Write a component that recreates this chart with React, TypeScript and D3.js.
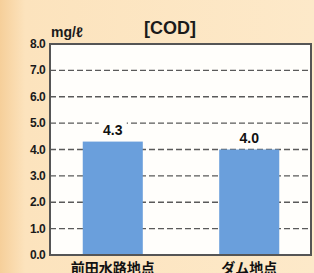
import React from "react";
import * as d3 from "d3";

const categories = ["前田水路地点", "ダム地点"];
const values = [4.3, 4.0];
const valueLabels = ["4.3", "4.0"];
const yTicks = [0, 1, 2, 3, 4, 5, 6, 7, 8];
const title = "[COD]";
const unit = "mg/ℓ";

const W = 314, H = 273;
const plot = { left: 50, right: 311, top: 44, bottom: 255 };

export default function App() {
  const y = d3.scaleLinear().domain([0, 8]).range([plot.bottom, plot.top]);
  const x = d3.scaleBand<string>().domain(categories).range([50, 312]).paddingInner(0.56).paddingOuter(0.24);
  return (
    <svg width={W} height={H} style={{ position: "absolute", left: 0, top: 0 }}>
      <defs>
        <linearGradient id="bg" x1="0" x2="1" y1="0" y2="0">
          <stop offset="0" stopColor="#f6cf9a" />
          <stop offset="0.08" stopColor="#fce3bd" />
          <stop offset="1" stopColor="#fde9c9" />
        </linearGradient>
      </defs>
      <rect x={0} y={0} width={W} height={H} fill="url(#bg)" />
      <rect x={plot.left} y={plot.top} width={plot.right - plot.left} height={plot.bottom - plot.top} fill="#fffefb" />
      {yTicks.filter(t => t > 0 && t < 8).map(t => (
        <line key={t} x1={plot.left} x2={plot.right} y1={y(t)} y2={y(t)} stroke="#5a5a5a" strokeWidth={1.4} strokeDasharray="6,3" />
      ))}
      {categories.map((c, i) => (
        <g key={c}>
          <rect x={x(c)} y={y(values[i])} width={x.bandwidth()} height={plot.bottom - y(values[i])} fill="#6a9fdc" />
          <rect x={x(c)! + x.bandwidth() / 2 - 14} y={y(values[i]) - 20} width={28} height={15} fill="#fffefb" />
          <text x={x(c)! + x.bandwidth() / 2} y={y(values[i]) - 7} textAnchor="middle" fontFamily="Liberation Sans, Arial, sans-serif" fontWeight="bold" fontSize={14} fill="#111">{valueLabels[i]}</text>
          <text x={x(c)! + x.bandwidth() / 2} y={plot.bottom + 18} textAnchor="middle" fontFamily="Noto Sans CJK JP, sans-serif" fontWeight="bold" fontSize={14} fill="#111">{c}</text>
        </g>
      ))}
      <rect x={plot.left} y={plot.top} width={plot.right - plot.left} height={plot.bottom - plot.top} fill="none" stroke="#555" strokeWidth={2} />
      {yTicks.map(t => (
        <text key={t} x={45} y={y(t) + 4} textAnchor="end" fontFamily="Liberation Sans, Arial, sans-serif" fontWeight="bold" fontSize={12} letterSpacing={-0.6} fill="#1a1a1a">{t.toFixed(1)}</text>
      ))}
      <text x={51} y={37} fontFamily="Liberation Sans, Arial, sans-serif" fontWeight="bold" fontSize={14} fill="#1a1a1a">{unit}</text>
      <text x={170} y={34} textAnchor="middle" fontFamily="Liberation Sans, Arial, sans-serif" fontWeight="bold" fontSize={18} fill="#1a1a1a">{title}</text>
    </svg>
  );
}
